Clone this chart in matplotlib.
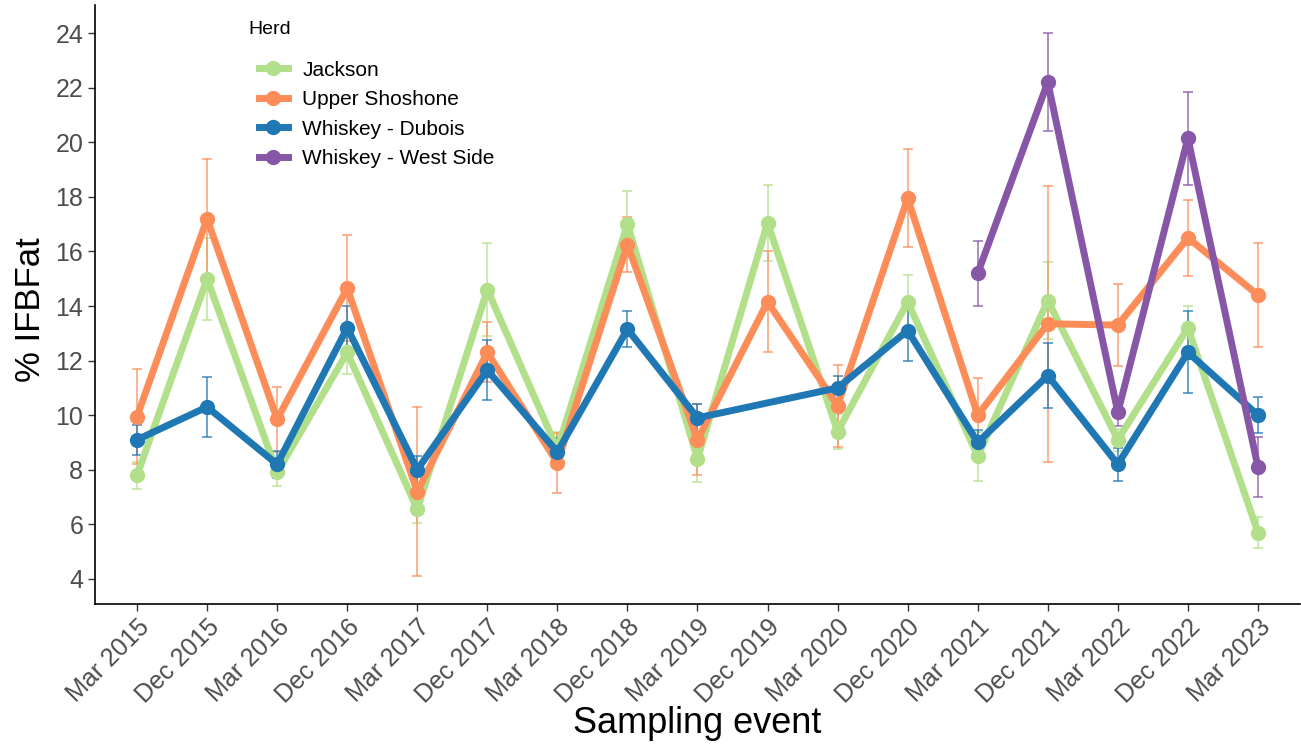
import numpy as np
import matplotlib
matplotlib.use("Agg")
import matplotlib.pyplot as plt

plt.rcParams['font.family'] = ['Liberation Sans', 'DejaVu Sans']

events = ["Mar 2015", "Dec 2015", "Mar 2016", "Dec 2016", "Mar 2017", "Dec 2017",
          "Mar 2018", "Dec 2018", "Mar 2019", "Dec 2019", "Mar 2020", "Dec 2020",
          "Mar 2021", "Dec 2021", "Mar 2022", "Dec 2022", "Mar 2023"]

herds = ["Jackson", "Upper Shoshone", "Whiskey - Dubois", "Whiskey - West Side"]
colors = ["#B2DF8A", "#FC8D59", "#1F78B4", "#8856A7"]

nan = np.nan
jackson = [7.8, 15.0, 7.9, 12.3, 6.55, 14.6, 8.75, 17.0, 8.4, 17.05, 9.4, 14.15,
           8.5, 14.2, 9.1, 13.2, 5.7]
jackson_err = [0.5, 1.5, 0.5, 0.8, 0.5, 1.7, 0.65, 1.2, 0.85, 1.4, 0.65, 1.0,
               0.9, 1.4, 0.4, 0.8, 0.55]

upper_shoshone = [9.95, 17.2, 9.85, 14.65, 7.2, 12.3, 8.25, 16.25, 9.1, 14.15, 10.35, 17.95,
                  10.0, 13.35, 13.3, 16.5, 14.4]
upper_shoshone_err = [1.75, 2.2, 1.2, 1.95, 3.1, 1.1, 1.1, 1.0, 1.3, 1.85, 1.5, 1.8,
                      1.35, 5.05, 1.5, 1.4, 1.9]

dubois = [9.1, 10.3, 8.2, 13.2, 8.0, 11.65, 8.65, 13.15, 9.9, nan, 11.0, 13.1,
          9.0, 11.45, 8.2, 12.3, 10.0]
dubois_err = [0.55, 1.1, 0.5, 0.8, 0.5, 1.1, 0.5, 0.65, 0.5, nan, 0.45, 1.1,
              0.45, 1.2, 0.6, 1.5, 0.65]

west_side = [nan] * 12 + [15.2, 22.2, 10.1, 20.15, 8.1]
west_side_err = [nan] * 12 + [1.2, 1.8, 0.5, 1.7, 1.1]

series = [(jackson, jackson_err), (upper_shoshone, upper_shoshone_err),
          (dubois, dubois_err), (west_side, west_side_err)]

fig = plt.figure(figsize=(13.01, 7.56), dpi=100)
ax = fig.add_axes([95 / 1301, 1 - 604 / 756, 1205 / 1301, 599 / 756])

x_all = np.arange(len(events))
handles = []
for (vals, errs), name, col in zip(series, herds, colors):
    v = np.array(vals, dtype=float)
    e = np.array(errs, dtype=float)
    m = ~np.isnan(v)
    x = x_all[m]
    ax.errorbar(x, v[m], yerr=e[m], fmt='none', ecolor=col, elinewidth=1.1,
                capsize=3.5, capthick=1.1, alpha=0.85, zorder=1)
for (vals, errs), name, col in zip(series, herds, colors):
    v = np.array(vals, dtype=float)
    m = ~np.isnan(v)
    x = x_all[m]
    h, = ax.plot(x, v[m], color=col, lw=5, marker='o', markersize=10,
                 solid_joinstyle='round', label=name, zorder=2)
    handles.append(h)

ax.set_xlim(-0.6, 16.6)
ax.set_ylim(3.08, 25.03)
ax.set_yticks(np.arange(4, 25, 2))
ax.set_xticks(x_all)
ax.set_xticklabels(events, rotation=45, ha='right', rotation_mode='anchor')
ax.tick_params(axis='both', labelsize=18, labelcolor='#4D4D4D', color='#333333',
               length=5, width=1)
ax.tick_params(axis='x', pad=3)
for s in ['top', 'right']:
    ax.spines[s].set_visible(False)
for s in ['left', 'bottom']:
    ax.spines[s].set_linewidth(1.2)
    ax.spines[s].set_color('black')

ax.set_xlabel("Sampling event", fontsize=26)
ax.xaxis.set_label_coords(0.5, -(706 - 604) / 599)
fig.text(30 / 1301, 1 - 310 / 756, "% IFBFat", rotation=90, fontsize=25,
         ha='center', va='center')

fig.text(248 / 1301, 1 - 30 / 756, "Herd", fontsize=14, ha='left', va='center')
leg = fig.legend(handles=handles, labels=herds, loc='upper left',
                 bbox_to_anchor=(240 / 1301, 1 - 42 / 756), frameon=False,
                 fontsize=15, handlelength=1.4, handletextpad=0.7,
                 labelspacing=0.5)

fig.savefig("out.png", dpi=100)
